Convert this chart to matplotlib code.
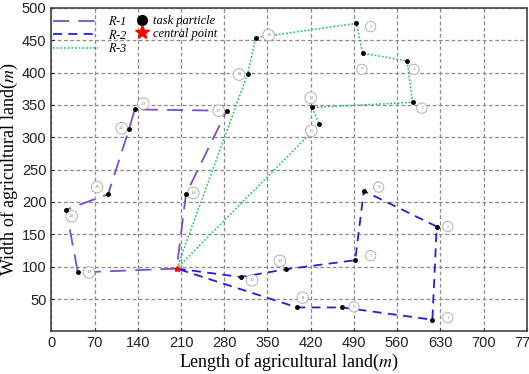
import matplotlib
matplotlib.use("Agg")
import matplotlib.pyplot as plt

plt.rcParams["mathtext.fontset"] = "stix"

# central point
center = (203, 97)

# route R-1 (task ids and coordinates, in visiting order)
r1_ids = [19, 20, 21, 22, 23, 17, 14]
r1_x = [43, 24, 92, 126, 135, 284, 218]
r1_y = [91, 188, 212, 313, 343, 341, 212]

# route R-2
r2_ids = [12, 13, 7, 8, 2, 1, 6, 11]
r2_x = [307, 380, 492, 506, 624, 617, 471, 398]
r2_y = [84, 96, 110, 217, 162, 18, 37, 37]

# route R-3
r3_ids = [18, 16, 5, 9, 4, 3, 10, 15]
r3_x = [318, 331, 494, 504, 576, 585, 422, 434]
r3_y = [398, 454, 476, 430, 418, 354, 346, 320]

# label offsets for the circled numbers (dx, dy in data units)
r1_off = [(18, 0), (9, -10), (-18, 11), (-12, 1), (14, 9), (-13, 0), (12, 2)]
r2_off = [(18, -5), (-10, 13), (25, 7), (24, 6), (18, 0), (25, 3), (19, 1), (9, 15)]
r3_off = [(-14, -1), (21, 4), (23, -5), (-1, -25), (11, -13), (15, -9), (-2, 15), (-13, -10)]

xticks = [0, 70, 140, 210, 280, 350, 420, 490, 560, 630, 700, 770]
yticks = [50, 100, 150, 200, 250, 300, 350, 400, 450, 500]

fig = plt.figure(figsize=(5.29, 3.74), dpi=100)
ax = fig.add_axes([0.097, 0.114, 0.899, 0.865])

serif = ["Liberation Serif", "DejaVu Serif"]
sans = ["Liberation Sans Narrow", "Liberation Sans", "DejaVu Sans"]


def route(xs, ys):
    return [center[0]] + xs + [center[0]], [center[1]] + ys + [center[1]]


x1, y1 = route(r1_x, r1_y)
x2, y2 = route(r2_x, r2_y)
x3, y3 = route(r3_x, r3_y)

l1, = ax.plot(x1, y1, color="#7d4fc6", lw=1.3, dashes=(9, 5))
l2, = ax.plot(x2, y2, color="#1f1fe6", lw=1.3, dashes=(5, 3.5))
l3, = ax.plot(x3, y3, color="#1fc860", lw=1.1, dashes=(1.2, 1.2))

for xs, ys, ids, offs in [(r1_x, r1_y, r1_ids, r1_off),
                          (r2_x, r2_y, r2_ids, r2_off),
                          (r3_x, r3_y, r3_ids, r3_off)]:
    ax.plot(xs, ys, "o", color="black", ms=2.5, zorder=4)
    for x, y, n, (dx, dy) in zip(xs, ys, ids, offs):
        ax.text(x + dx, y + dy, str(n), fontsize=3.8, color="#888888",
                ha="center", va="center", family=serif,
                bbox=dict(boxstyle="circle,pad=0.6", fc="white",
                          ec="#b0b0b0", lw=0.7))

ax.plot(center[0], center[1], "*", color="red", ms=4, zorder=5)

tp, = ax.plot([], [], "o", color="black", ms=7)
cp, = ax.plot([], [], "*", color="red", ms=10)

leg_font = dict(family=serif, style="italic", size=9)
leg1 = ax.legend([l1, l2, l3], ["$R$-1", "$R$-2", "$R$-3"],
                 loc="upper left", bbox_to_anchor=(0.004, 0.978),
                 frameon=False, handlelength=3.6, handletextpad=0.8,
                 labelspacing=0.05, borderaxespad=0, borderpad=0,
                 prop=leg_font)
ax.add_artist(leg1)
ax.legend([tp, cp], ["task particle", "central point"],
          loc="upper left", bbox_to_anchor=(0.178, 0.978),
          frameon=False, handlelength=1.0, handletextpad=0.4,
          labelspacing=0.05, borderaxespad=0, borderpad=0,
          prop=leg_font)

ax.set_xlim(0, 770)
ax.set_ylim(0, 500)
ax.set_xticks(xticks)
ax.set_yticks(yticks)
ax.tick_params(direction="in", length=2, labelsize=10.5, colors="#222222")
for lab in ax.get_xticklabels() + ax.get_yticklabels():
    lab.set_family(sans)
ax.grid(True, color="#8c8c8c", linestyle=(0, (3, 2)), lw=0.9)
for s in ax.spines.values():
    s.set_color("#444444")
    s.set_linewidth(1.2)

ax.set_xlabel("Length of agricultural land($m$)", family=serif, fontsize=13,
              labelpad=1)
ax.set_ylabel("Width of agricultural land($m$)", family=serif, fontsize=13,
              labelpad=1)

fig.savefig("out.png", dpi=100)
